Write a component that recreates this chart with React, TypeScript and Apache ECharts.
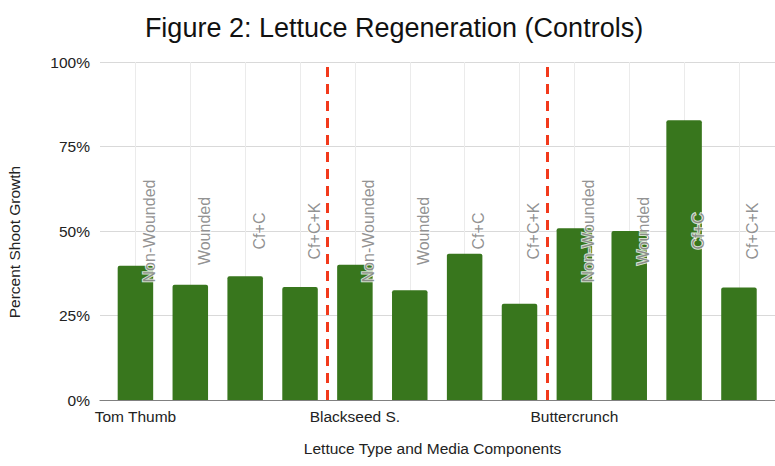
import React, { useEffect, useRef } from "react";
import * as echarts from "echarts";

// Lettuce varieties, one block of four treatments each
const groups = ["Tom Thumb", "Blackseed S.", "Buttercrunch"];
const treatments = ["Non-Wounded", "Wounded", "Cf+C", "Cf+C+K"];
// Percent shoot growth per variety x treatment, in the order above
const shootGrowth = [39.7, 34.1, 36.6, 33.4, 40.0, 32.5, 43.3, 28.5, 50.8, 50.0, 82.8, 33.3];
const yTicks = [0, 25, 50, 75, 100];
// Level (in %) on which the treatment names are centred
const treatmentLabelLevel = 50;
// Category boundaries where the variety blocks are split
const groupDividers = [4, 8];

const FONT = "'Liberation Sans', Arial, Helvetica, sans-serif";

// plot box of the bars
const PLOT_LEFT = 108;
const PLOT_RIGHT = 8.6;
const PLOT_TOP = 62;
const PLOT_BOTTOM = 66;
const CHART_W = 775;

export default function App() {
  const ref = useRef<HTMLDivElement>(null);

  useEffect(() => {
    if (!ref.current) return;
    const chart = echarts.init(ref.current, undefined, { renderer: "svg" });

    const n = shootGrowth.length;
    const perGroup = treatments.length;
    const categoryLabels = shootGrowth.map((_, i) =>
      i % perGroup === 0 ? groups[Math.floor(i / perGroup)] : ""
    );
    const labelPoints = shootGrowth.map((_, i) => ({
      value: [i + 0.5, treatmentLabelLevel],
      name: treatments[i % perGroup],
    }));

    // half a category band, used to place the guide grid on bar centres
    const halfBand = (CHART_W - PLOT_LEFT - PLOT_RIGHT) / n / 2;

    const yMin = yTicks[0];
    const yMax = yTicks[yTicks.length - 1];
    const yStep = yTicks[1] - yTicks[0];

    chart.setOption({
      animation: false,
      backgroundColor: "#ffffff",
      textStyle: { fontFamily: FONT },
      title: {
        text: "Figure 2: Lettuce Regeneration (Controls)",
        left: 389,
        top: 9.5,
        textAlign: "center",
        textStyle: { fontFamily: FONT, fontSize: 27, fontWeight: "normal", color: "#111111" },
      },
      grid: [
        { left: 100, right: 0, top: PLOT_TOP, bottom: PLOT_BOTTOM },
        { left: PLOT_LEFT, right: PLOT_RIGHT, top: PLOT_TOP, bottom: PLOT_BOTTOM },
        {
          left: PLOT_LEFT + halfBand,
          right: PLOT_RIGHT + halfBand,
          top: PLOT_TOP,
          bottom: PLOT_BOTTOM,
        },
      ],
      xAxis: [
        {
          gridIndex: 0,
          type: "value",
          min: 0,
          max: 1,
          axisLine: { show: true, lineStyle: { color: "#808080", width: 1.2 } },
          axisTick: { show: false },
          axisLabel: { show: false },
          splitLine: { show: false },
        },
        {
          gridIndex: 1,
          type: "category",
          data: categoryLabels,
          axisLine: { show: false },
          axisTick: { show: false },
          splitLine: { show: false },
          axisLabel: {
            interval: 0,
            margin: 8,
            fontFamily: FONT,
            fontSize: 15.5,
            color: "#222222",
          },
        },
        { gridIndex: 1, type: "value", min: 0, max: n, show: false },
        {
          // light vertical guides through each bar centre
          gridIndex: 2,
          type: "value",
          min: 0,
          max: n - 1,
          interval: 1,
          axisLine: { show: false },
          axisTick: { show: false },
          axisLabel: { show: false },
          splitLine: { show: true, lineStyle: { color: "#ebebeb", width: 1 } },
        },
      ],
      yAxis: [
        {
          gridIndex: 0,
          type: "value",
          min: yMin,
          max: yMax,
          interval: yStep,
          axisLine: { show: false },
          axisTick: { show: false },
          axisLabel: {
            formatter: "{value}%",
            margin: 10,
            fontFamily: FONT,
            fontSize: 15.5,
            color: "#222222",
          },
          splitLine: { lineStyle: { color: "#d9d9d9", width: 1 } },
        },
        { gridIndex: 1, type: "value", min: yMin, max: yMax, show: false },
        {
          gridIndex: 2,
          type: "value",
          min: yMin,
          max: yMax,
          axisLine: { show: false },
          axisTick: { show: false },
          axisLabel: { show: false },
          splitLine: { show: false },
        },
      ],
      graphic: [
        {
          type: "text",
          x: 14,
          y: 242,
          rotation: Math.PI / 2,
          style: {
            text: "Percent Shoot Growth",
            font: `15.5px ${FONT}`,
            fill: "#222222",
            align: "center",
            verticalAlign: "middle",
          },
        },
        {
          type: "text",
          x: 432.5,
          y: 448,
          style: {
            text: "Lettuce Type and Media Components",
            font: `15.5px ${FONT}`,
            fill: "#222222",
            align: "center",
            verticalAlign: "middle",
          },
        },
      ],
      series: [
        {
          type: "bar",
          xAxisIndex: 1,
          yAxisIndex: 1,
          data: shootGrowth,
          barWidth: 35.5,
          z: 2,
          itemStyle: { color: "#38761d", borderRadius: [2, 2, 0, 0] },
        },
        {
          // treatment names
          type: "scatter",
          xAxisIndex: 2,
          yAxisIndex: 1,
          data: labelPoints,
          symbolSize: 0,
          z: 3,
          silent: true,
          label: {
            show: true,
            position: "inside",
            rotate: 90,
            offset: [0, 14],
            formatter: (p: any) => p.name,
            fontFamily: FONT,
            fontSize: 16,
            color: "#757575",
            textBorderColor: "#ffffff",
            textBorderWidth: 2,
          },
        },
        {
          // red dashed separators between varieties
          type: "line",
          xAxisIndex: 2,
          yAxisIndex: 1,
          data: [],
          z: 4,
          silent: true,
          markLine: {
            silent: true,
            symbol: ["none", "none"],
            label: { show: false },
            lineStyle: { color: "#f2391b", width: 3, type: [10, 7] },
            data: groupDividers.map((d) => ({ xAxis: d })),
          },
        },
      ],
    });

    return () => chart.dispose();
  }, []);

  return (
    <div
      ref={ref}
      style={{ position: "fixed", left: 0, top: 0, width: CHART_W, height: 466 }}
    />
  );
}
